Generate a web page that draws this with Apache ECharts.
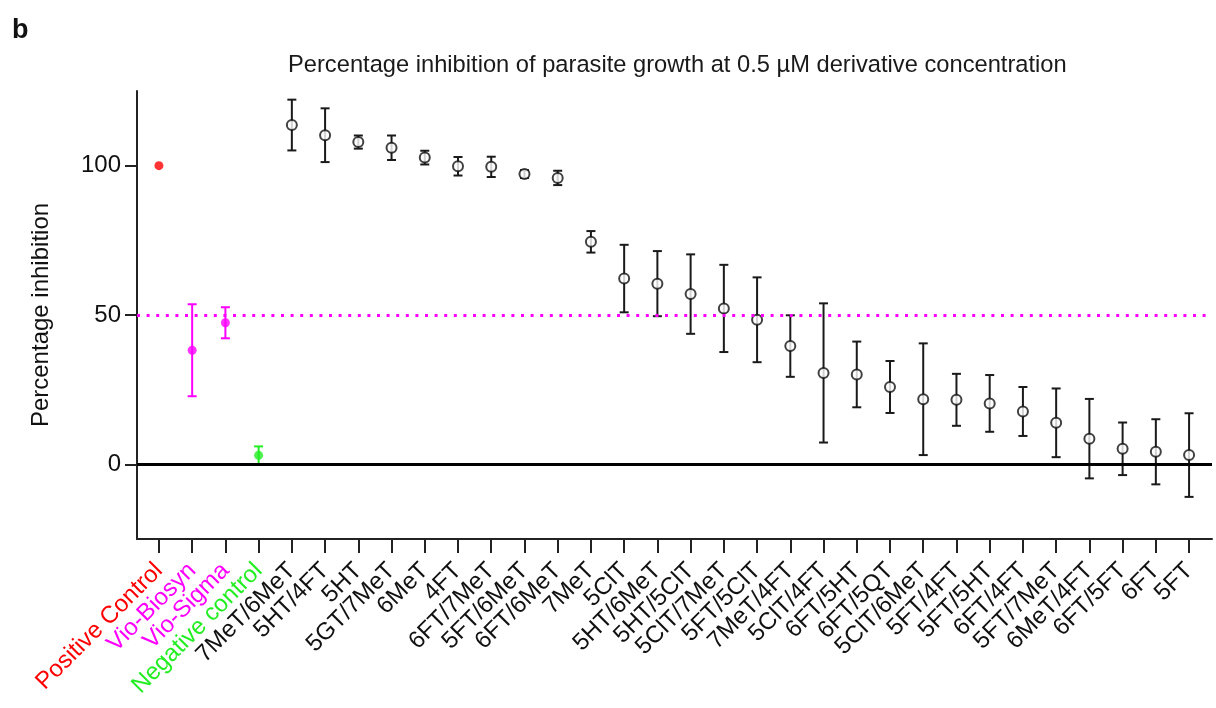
<!DOCTYPE html>
<html>
<head>
<meta charset="utf-8">
<script src="https://cdn.jsdelivr.net/npm/echarts@6/dist/echarts.min.js"></script>
<style>html,body{margin:0;padding:0;background:#fff}#c{width:1216px;height:708px}</style>
</head>
<body>
<div id="c"></div>
<script>
const categories = ['Positive Control','Vio-Biosyn','Vio-Sigma','Negative control',
  '7MeT/6MeT','5HT/4FT','5HT','5GT/7MeT','6MeT','4FT','6FT/7MeT','5FT/6MeT','6FT/6MeT',
  '7MeT','5ClT','5HT/6MeT','5HT/5ClT','5ClT/7MeT','5FT/5ClT','7MeT/4FT','5ClT/4FT',
  '6FT/5HT','6FT/5QT','5ClT/6MeT','5FT/4FT','5FT/5HT','6FT/4FT','5FT/7MeT','6MeT/4FT',
  '6FT/5FT','6FT','5FT'];
const means = [100, 38.2, 47.4, 3.0,
  113.6, 110.2, 107.9, 106.0, 102.7, 99.8, 99.6, 97.2, 95.9,
  74.5, 62.2, 60.5, 57.0, 52.2, 48.4, 39.6, 30.6,
  30.1, 25.9, 21.8, 21.6, 20.4, 17.7, 13.9, 8.6,
  5.2, 4.2, 3.1];
const errors = [0, 15.4, 5.2, 3.0,
  8.5, 9.0, 2.2, 4.1, 2.3, 3.1, 3.4, 1.3, 2.4,
  3.6, 11.3, 10.9, 13.3, 14.6, 14.2, 10.3, 23.3,
  11.0, 8.7, 18.7, 8.7, 9.5, 8.2, 11.5, 13.3,
  8.8, 10.9, 14.0];
const yTicks = [0, 50, 100];
const controlCount = 4;

const controlColor = {'Positive Control':'#ff0000','Vio-Biosyn':'#ff00ff','Vio-Sigma':'#ff00ff','Negative control':'#22ee22'};
const richKey = {'#ff0000':'r','#ff00ff':'m','#22ee22':'g'};
const colorOf = i => controlColor[categories[i]] || '#1a1a1a';
const FONT = 'Liberation Sans, Arial, Helvetica, sans-serif';
const FS = 24;

const indices = categories.map((_, i) => i);
const controlData = indices.slice(0, controlCount).map(i => ({value:[i, means[i]], itemStyle:{color: colorOf(i)}}));
const compoundData = indices.slice(controlCount).map(i => [i, means[i]]);
const errData = indices.filter(i => errors[i] > 0).map(i => [i, means[i], errors[i]]);

const X_MIN = -0.66, X_MAX = 31.69;
const GRID_L = 137, GRID_R = 4, GRID_T = 91, GRID_B = 169;
// label grid: spans exactly from first to last category centre of the data grid
const unit = (1216 - GRID_L - GRID_R) / (X_MAX - X_MIN);
const LBL_L = GRID_L + (0 - X_MIN) * unit;
const LBL_R = GRID_R + (X_MAX - (categories.length - 1)) * unit;

const chart = echarts.init(document.getElementById('c'), null, {renderer:'canvas'});
chart.setOption({
  animation: false,
  backgroundColor: '#fff',
  textStyle: {fontFamily: FONT},
  title: [
    {text: 'b', left: 7, top: 12, textStyle:{fontSize: 27, fontWeight:'bold', color:'#111', fontFamily: FONT}},
    {text: 'Percentage inhibition of parasite growth at 0.5 µM derivative concentration', left: 283, top: 48,
     textStyle:{fontSize: 23.7, fontWeight:'normal', color:'#1a1a1a', fontFamily: FONT}}
  ],
  grid: [
    {left: GRID_L, right: GRID_R, top: GRID_T, bottom: GRID_B, containLabel: false},
    {left: LBL_L, right: LBL_R, top: GRID_T, bottom: GRID_B, containLabel: false}
  ],
  xAxis: [{
    type: 'value', gridIndex: 0, min: X_MIN, max: X_MAX,
    splitLine: {show: false},
    axisLine: {show: true, onZero: false, lineStyle: {color:'#222', width: 2}},
    axisTick: {show: true, customValues: indices, length: 14, lineStyle: {color:'#222', width: 2}},
    axisLabel: {show: false}
  }, {
    type: 'category', gridIndex: 1, data: categories, boundaryGap: false,
    axisLine: {show: false}, axisTick: {show: false}, splitLine: {show: false},
    axisLabel: {
      interval: 0, rotate: 45, margin: 28, fontSize: FS, fontFamily: FONT,
      formatter: (v, i) => { const c = colorOf(i); return '{' + (richKey[c] || 'k') + '|' + v + '}'; },
      rich: {
        r: {color:'#ff0000', fontSize: FS, fontFamily: FONT},
        m: {color:'#ff00ff', fontSize: FS, fontFamily: FONT},
        g: {color:'#22ee22', fontSize: FS, fontFamily: FONT},
        k: {color:'#111111', fontSize: FS, fontFamily: FONT}
      }
    }
  }],
  yAxis: [{
    type: 'value', gridIndex: 0, min: -25, max: 125,
    name: 'Percentage inhibition', nameLocation: 'middle', nameGap: 84,
    nameTextStyle: {fontSize: FS, color:'#111', fontFamily: FONT},
    splitLine: {show: false},
    axisLine: {show: true, onZero: false, lineStyle: {color:'#222', width: 2}},
    axisTick: {show: true, customValues: yTicks, length: 12, lineStyle: {color:'#222', width: 2}},
    axisLabel: {customValues: yTicks, margin: 16, fontSize: FS, color:'#111', fontFamily: FONT,
      showMinLabel: true, showMaxLabel: true}
  }, {
    type: 'value', gridIndex: 1, min: -25, max: 125, show: false
  }],
  series: [
    {
      type: 'custom', name: 'err', z: 2, xAxisIndex: 0, yAxisIndex: 0,
      data: errData,
      renderItem: (params, api) => {
        const d = errData[params.dataIndex];
        const col = colorOf(d[0]);
        const top = api.coord([api.value(0), api.value(1) + api.value(2)]);
        const bot = api.coord([api.value(0), api.value(1) - api.value(2)]);
        const hw = 4.5;
        const st = {stroke: col, lineWidth: 2, fill: null};
        return {type: 'group', children: [
          {type:'line', shape:{x1:top[0], y1:top[1], x2:bot[0], y2:bot[1]}, style: st},
          {type:'line', shape:{x1:top[0]-hw, y1:top[1], x2:top[0]+hw, y2:top[1]}, style: st},
          {type:'line', shape:{x1:bot[0]-hw, y1:bot[1], x2:bot[0]+hw, y2:bot[1]}, style: st}
        ]};
      },
      markLine: {
        silent: true, symbol: 'none', label: {show: false},
        data: [
          {yAxis: 50, lineStyle: {color:'#ff00ff', width: 3, type: [3, 6.6]}},
          {yAxis: 0, lineStyle: {color:'#000', width: 3, type: 'solid'}}
        ]
      }
    },
    {
      type: 'scatter', name: 'controls', z: 4, xAxisIndex: 0, yAxisIndex: 0,
      symbol: 'circle', symbolSize: 9,
      data: controlData
    },
    {
      type: 'scatter', name: 'compounds', z: 4, xAxisIndex: 0, yAxisIndex: 0,
      symbol: 'circle', symbolSize: 10,
      itemStyle: {color:'#fff', borderColor:'#111', borderWidth: 2},
      data: compoundData
    }
  ]
});
</script>
</body>
</html>
